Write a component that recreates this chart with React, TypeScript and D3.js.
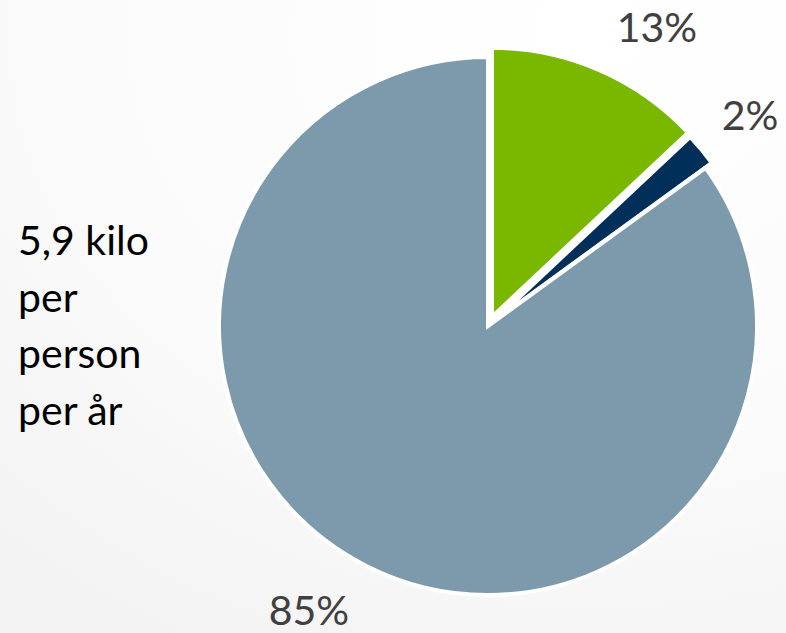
import React from "react";
import * as d3 from "d3";

const categories = ["Grön", "Mörk", "Grå"];
const values = [13, 2, 85];
const percentLabels = ["13%", "2%", "85%"];
const colors = ["#7ab800", "#00305a", "#7c9aab"];
const explode = [10, 8, 0];
const sideText = ["5,9 kilo", "per", "person", "per år"];

const W = 786;
const H = 633;
const cx = 488;
const cy = 326;
const R = 269;
const labelPos: [number, number][] = [
  [657, 42],
  [750, 130],
  [309, 625],
];

export default function App() {
  const pie = d3
    .pie<number>()
    .sort(null)
    .startAngle(0)
    .endAngle(2 * Math.PI)
    .value((d) => d);
  const arcs = pie(values);
  const arc = d3.arc<d3.PieArcDatum<number>>().innerRadius(0).outerRadius(R);
  const font = "Lato, 'Open Sans', sans-serif";
  return (
    <svg
      width={W}
      height={H}
      style={{ position: "absolute", left: 0, top: 0, display: "block" }}
    >
      <defs>
        <radialGradient id="bg" cx="0.75" cy="0.05" r="1.1">
          <stop offset="0" stopColor="#ffffff" />
          <stop offset="0.6" stopColor="#fbfbfb" />
          <stop offset="1" stopColor="#f3f3f3" />
        </radialGradient>
      </defs>
      <rect width={W} height={H} fill="url(#bg)" />
      <g transform={`translate(${cx},${cy})`}>
        {arcs.map((a, i) => {
          const mid = (a.startAngle + a.endAngle) / 2;
          const dx = Math.sin(mid) * explode[i];
          const dy = -Math.cos(mid) * explode[i];
          return (
            <path
              key={categories[i]}
              d={arc(a) || ""}
              transform={`translate(${dx},${dy})`}
              fill={colors[i]}
              stroke="#ffffff"
              strokeWidth={4}
              strokeLinejoin="miter"
            />
          );
        })}
      </g>
      {percentLabels.map((t, i) => (
        <text
          key={t}
          x={labelPos[i][0]}
          y={labelPos[i][1]}
          textAnchor="middle"
          fontFamily={font}
          fontSize={41}
          fill="#404040"
        >
          {t}
        </text>
      ))}
      {sideText.map((t, i) => (
        <text
          key={t + i}
          x={18}
          y={255 + i * 56.7}
          fontFamily={font}
          fontSize={41}
          fill="#000000"
        >
          {t}
        </text>
      ))}
    </svg>
  );
}
